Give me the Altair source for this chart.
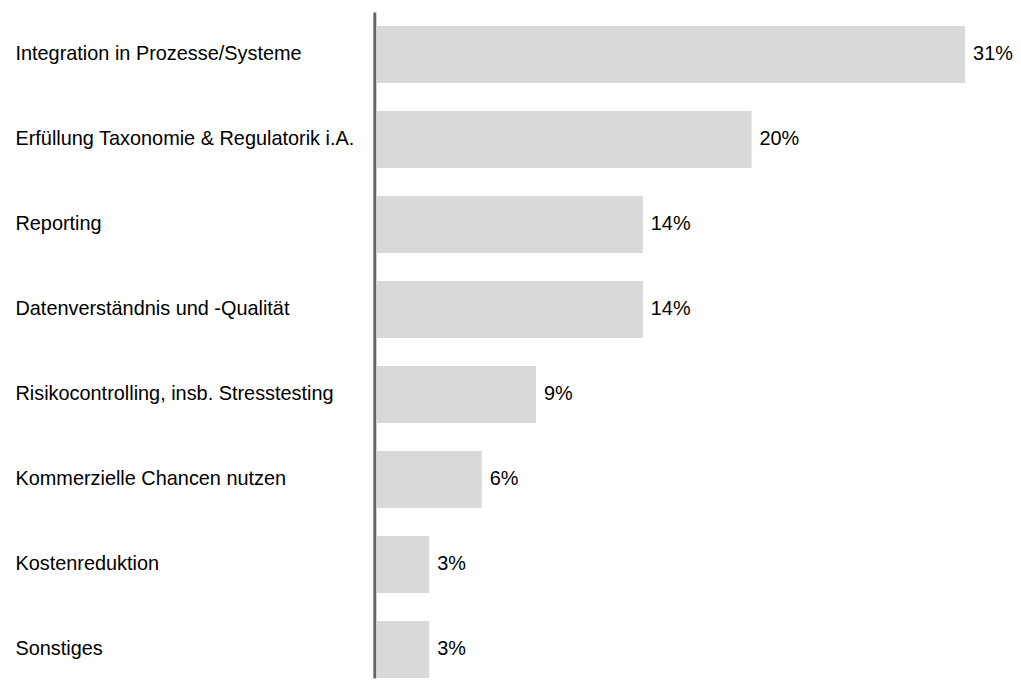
import altair as alt
import pandas as pd

categories = [
    "Integration in Prozesse/Systeme",
    "Erfüllung Taxonomie & Regulatorik i.A.",
    "Reporting",
    "Datenverständnis und -Qualität",
    "Risikocontrolling, insb. Stresstesting",
    "Kommerzielle Chancen nutzen",
    "Kostenreduktion",
    "Sonstiges",
]
shares = [31.4, 20.0, 14.2, 14.2, 8.5, 5.6, 2.8, 2.8]
labels = ["31%", "20%", "14%", "14%", "9%", "6%", "3%", "3%"]

df = pd.DataFrame({"cat": categories, "share": shares, "label": labels})

FONT = "Liberation Sans"

y = alt.Y(
    "cat:N",
    sort=categories,
    title=None,
    scale=alt.Scale(paddingInner=0.328, paddingOuter=0.082, align=1),
    axis=alt.Axis(
        domain=True,
        domainColor="#666666",
        domainWidth=3,
        offset=2.5,
        ticks=False,
        tickSize=0,
        grid=False,
        labelAlign="left",
        labelBaseline="middle",
        labelPadding=361.5,
        labelFont=FONT,
        labelFontSize=20,
        labelColor="#000000",
        labelLimit=400,
    ),
)
x = alt.X("share:Q", scale=alt.Scale(domain=[0, 33], nice=False, zero=True), axis=None)

base = alt.Chart(df).encode(y=y, x=x)
bars = base.mark_bar(color="#d9d9d9")
text = base.mark_text(
    align="left", baseline="middle", dx=8, font=FONT, fontSize=20, color="#000000"
).encode(text="label:N")

chart = (
    alt.layer(bars, text)
    .properties(
        width=622,
        height=670,
        padding={"left": 7, "top": 2, "right": 0, "bottom": 0},
        background="white",
    )
    .configure_view(stroke=None)
)

chart.save("out.html", embed_options={"renderer": "svg", "actions": False})
